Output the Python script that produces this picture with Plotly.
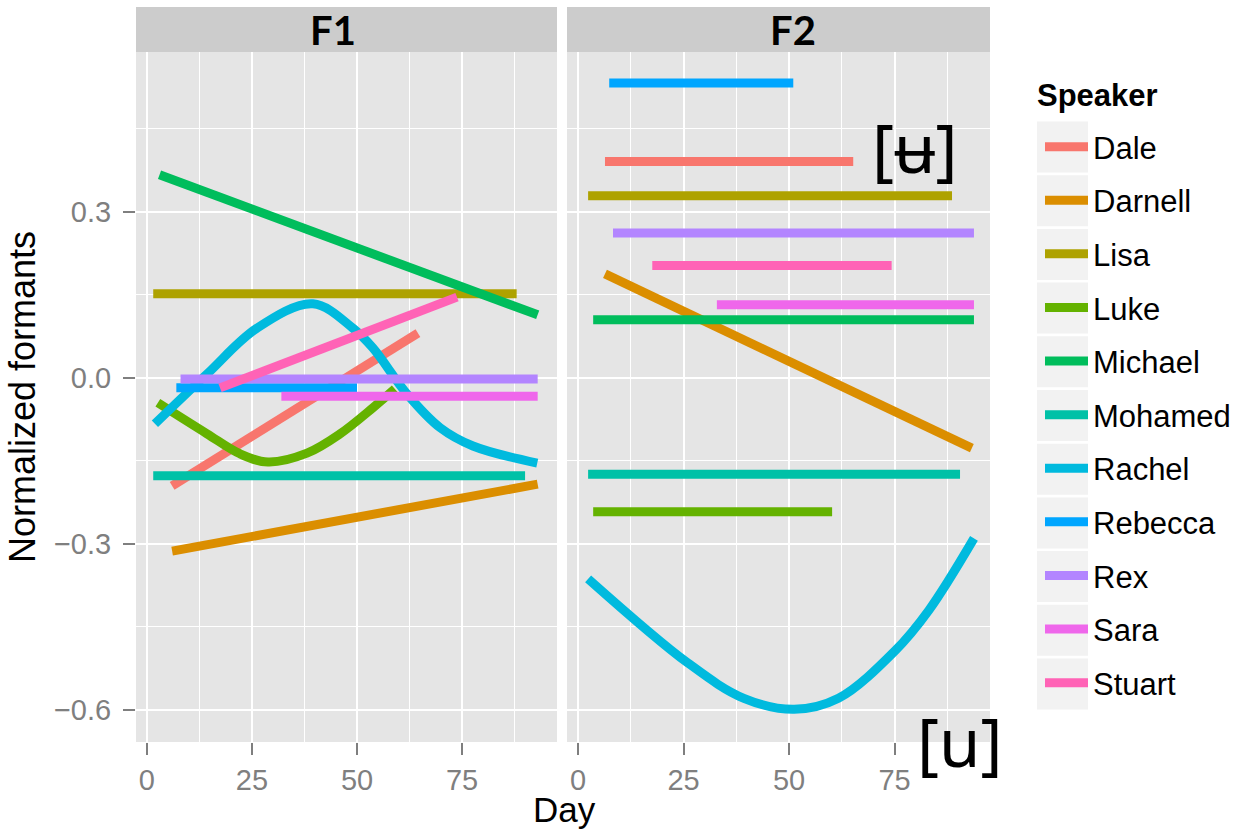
import plotly.graph_objects as go

# Speakers in legend order, with ggplot-style hue colours
speakers = ["Dale", "Darnell", "Lisa", "Luke", "Michael", "Mohamed",
            "Rachel", "Rebecca", "Rex", "Sara", "Stuart"]
colors = ["#F8766D", "#DB8E00", "#AEA200", "#64B200", "#00BD5C", "#00C1A7",
          "#00BADE", "#00A6FF", "#B385FF", "#EF67EB", "#FF63B6"]

# F1 trajectories: day and normalized value per speaker
f1_day = {
    "Dale": [6, 64.5],
    "Darnell": [6, 93],
    "Lisa": [1.5, 88],
    "Luke": [2.6, 14.3, 22.1, 28.8, 38.1, 46, 53.8, 59],
    "Michael": [3, 93],
    "Mohamed": [1.5, 90],
    "Rachel": [1.9, 14.3, 26.2, 39.5, 49.0, 53.8, 61.9, 69.8, 77.6, 92.9],
    "Rebecca": [7, 50],
    "Rex": [8, 93],
    "Sara": [32, 93],
    "Stuart": [17.4, 73.8],
}
f1_val = {
    "Dale": [-0.195, 0.081],
    "Darnell": [-0.313, -0.192],
    "Lisa": [0.152, 0.152],
    "Luke": [-0.045, -0.101, -0.137, -0.152, -0.136, -0.101, -0.054, -0.02],
    "Michael": [0.367, 0.114],
    "Mohamed": [-0.177, -0.177],
    "Rachel": [-0.083, 0.007, 0.090, 0.134, 0.090, 0.054, -0.029, -0.090, -0.123, -0.154],
    "Rebecca": [-0.018, -0.018],
    "Rex": [-0.002, -0.002],
    "Sara": [-0.033, -0.033],
    "Stuart": [-0.018, 0.146],
}

# F2 trajectories
f2_day = {
    "Dale": [6.4, 65.2],
    "Darnell": [6.4, 93.3],
    "Lisa": [2.4, 88.6],
    "Luke": [3.6, 60.2],
    "Michael": [3.6, 93.8],
    "Mohamed": [2.4, 90.5],
    "Rachel": [2.4, 26.0, 39.3, 51.2, 61.7, 75.0, 83.1, 93.8],
    "Rebecca": [7.4, 51],
    "Rex": [8.3, 93.8],
    "Sara": [32.9, 93.8],
    "Stuart": [17.6, 74.3],
}
f2_val = {
    "Dale": [0.391, 0.391],
    "Darnell": [0.188, -0.127],
    "Lisa": [0.329, 0.329],
    "Luke": [-0.242, -0.242],
    "Michael": [0.105, 0.105],
    "Mohamed": [-0.174, -0.174],
    "Rachel": [-0.363, -0.515, -0.579, -0.599, -0.579, -0.494, -0.420, -0.29],
    "Rebecca": [0.533, 0.533],
    "Rex": [0.262, 0.262],
    "Sara": [0.132, 0.132],
    "Stuart": [0.203, 0.203],
}

facet_labels = ["F1", "F2"]
x_ticks = [0, 25, 50, 75]
y_ticks = [-0.6, -0.3, 0.0, 0.3]

W, H = 1238, 831
LINE_W = 9
SANS = "Liberation Sans, Arial, sans-serif"

fig = go.Figure()
for name, col in zip(speakers, colors):
    shape = "spline" if len(f1_day[name]) > 2 else "linear"
    fig.add_trace(go.Scatter(
        x=f1_day[name], y=f1_val[name], mode="lines", name=name,
        legendgroup=name, showlegend=True,
        line=dict(color=col, width=LINE_W, shape=shape, smoothing=1.0),
        xaxis="x", yaxis="y", hoverinfo="skip"))
    shape2 = "spline" if len(f2_day[name]) > 2 else "linear"
    fig.add_trace(go.Scatter(
        x=f2_day[name], y=f2_val[name], mode="lines", name=name,
        legendgroup=name, showlegend=False,
        line=dict(color=col, width=LINE_W, shape=shape2, smoothing=1.0),
        xaxis="x2", yaxis="y", hoverinfo="skip"))

# panel geometry in pixels
p1 = (136, 557)
p2 = (567, 990)
ptop, pbot = 52, 742
strip_top = 7

def px(x):
    return x / W

def py(y):
    return (H - y) / H

tick_font = dict(family=SANS, size=29, color="#7F7F7F")
grid_common = dict(
    showgrid=True, gridcolor="white", gridwidth=2.2,
    zeroline=False, showline=False,
    ticks="outside", ticklen=12, tickwidth=2, tickcolor="#7F7F7F",
    tickfont=tick_font,
)
xcommon = dict(range=[-2.6, 97.6], tickvals=x_ticks, ticklabelstandoff=0,
               minor=dict(dtick=12.5, tick0=12.5, showgrid=True, gridcolor="white",
                          gridwidth=1, ticks=""),
               **grid_common)

fig.update_layout(
    width=W, height=H,
    margin=dict(l=0, r=0, t=0, b=0),
    paper_bgcolor="white",
    plot_bgcolor="#E5E5E5",
    xaxis=dict(domain=[px(p1[0]), px(p1[1])], anchor="y", **xcommon),
    xaxis2=dict(domain=[px(p2[0]), px(p2[1])], anchor="y", **xcommon),
    yaxis=dict(domain=[py(pbot), py(ptop)], anchor="x",
               range=[-0.658, 0.589], tickvals=y_ticks, tickformat=".1f",
               ticklabelstandoff=6,
               minor=dict(dtick=0.3, tick0=0.15, showgrid=True, gridcolor="white",
                          gridwidth=1, ticks=""),
               title=dict(text="Normalized formants", standoff=7,
                          font=dict(family=SANS, size=36, color="black")),
               **grid_common),
    legend=dict(
        x=px(1040), y=py(120), xanchor="left", yanchor="top",
        bgcolor="rgba(0,0,0,0)",
        font=dict(family=SANS, size=31, color="black"),
        tracegroupgap=10.3, itemwidth=43,
    ),
    showlegend=True,
)

shapes = []
annotations = []
# facet strips
strip_text_x = [333, 793]
for (x0, x1), lab, tx in zip([p1, p2], facet_labels, strip_text_x):
    shapes.append(dict(type="rect", xref="paper", yref="paper",
                       x0=px(x0), x1=px(x1), y0=py(ptop), y1=py(strip_top),
                       fillcolor="#CCCCCC", line=dict(width=0), layer="below"))
    annotations.append(dict(text="<b>%s</b>" % lab, xref="paper", yref="paper",
                            x=px(tx), y=py(30),
                            xanchor="center", yanchor="middle", showarrow=False,
                            font=dict(family="Lato, Liberation Sans, sans-serif",
                                      size=40, color="black")))

# legend title and key backgrounds
annotations.append(dict(text="<b>Speaker</b>", xref="paper", yref="paper",
                        x=px(1035), y=py(96), xanchor="left", yanchor="middle",
                        showarrow=False,
                        font=dict(family=SANS, size=31, color="black")))
key_y0, key_step, key_h = 147, 53.7, 51
for i in range(len(speakers)):
    cy = key_y0 + i * key_step
    shapes.append(dict(type="rect", xref="paper", yref="paper",
                       x0=px(1037), x1=px(1088), y0=py(cy + key_h / 2), y1=py(cy - key_h / 2),
                       fillcolor="#F2F2F2", line=dict(width=0), layer="below"))

# shared x-axis title
annotations.append(dict(text="Day", xref="paper", yref="paper",
                        x=px(564), y=0, xanchor="center", yanchor="bottom",
                        showarrow=False,
                        font=dict(family=SANS, size=35, color="black")))
# vowel labels
annotations.append(dict(text="[ʉ]", xref="paper", yref="paper",
                        x=px(915), y=py(147), xanchor="center", yanchor="middle",
                        showarrow=False,
                        font=dict(family="Noto Sans, DejaVu Sans, sans-serif",
                                  size=67, color="black")))
annotations.append(dict(text="[u]", xref="paper", yref="paper",
                        x=px(960), y=py(741), xanchor="center", yanchor="middle",
                        showarrow=False,
                        font=dict(family="Noto Sans, DejaVu Sans, sans-serif",
                                  size=67, color="black")))

fig.update_layout(shapes=shapes, annotations=annotations)
fig.write_html("out.html")
